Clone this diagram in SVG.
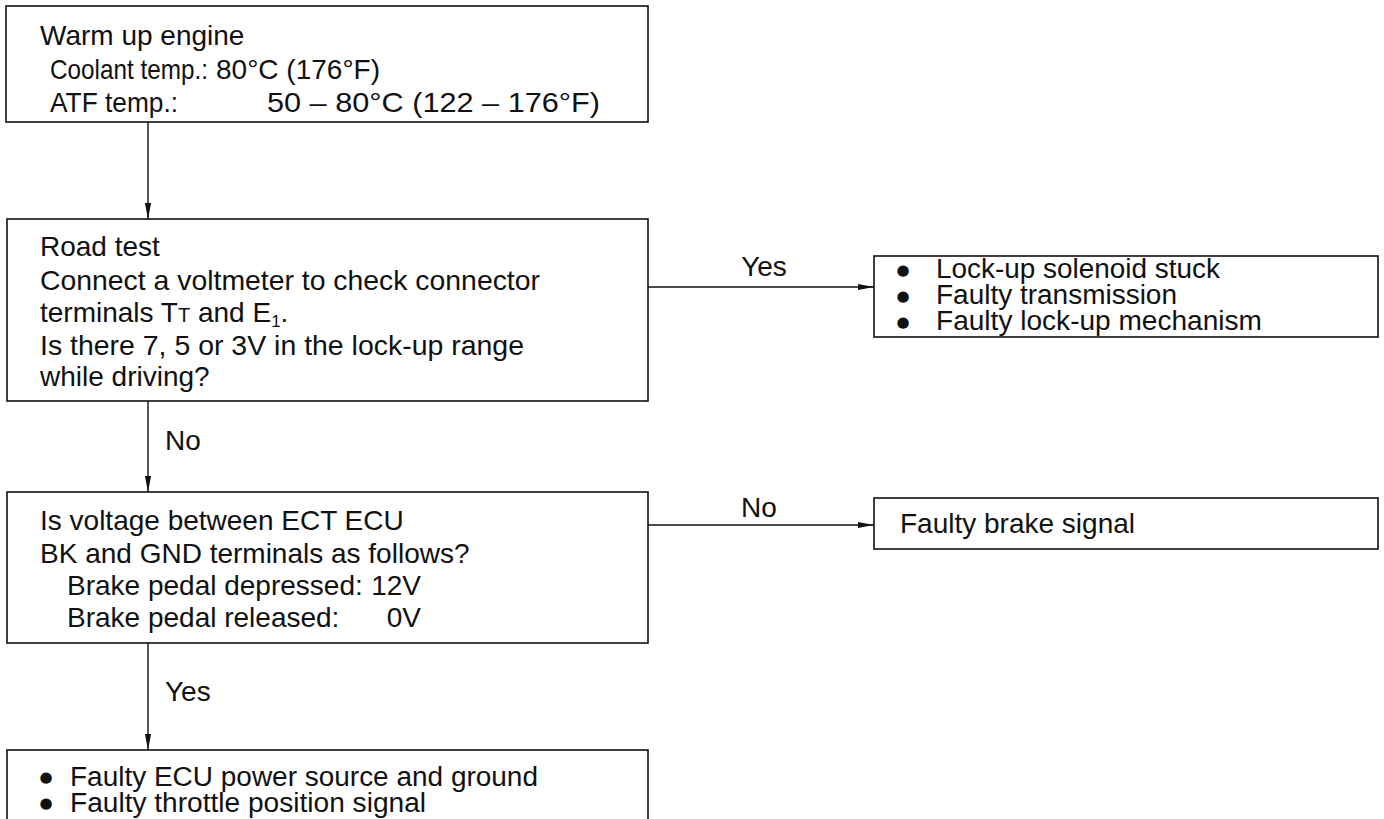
<svg xmlns="http://www.w3.org/2000/svg" width="1384" height="819" viewBox="0 0 1384 819">
<defs>
<marker id="ah" viewBox="0 0 16 8" refX="16" refY="4" markerWidth="16" markerHeight="8" markerUnits="userSpaceOnUse" orient="auto">
<path d="M0,0.9 L16,4 L0,7.1 Z" fill="#111"/>
</marker>
<style>
.box{fill:#fff;stroke:#111;stroke-width:1.6}
.t{font-family:"Liberation Sans",Arial,sans-serif;font-size:28px;fill:#111}
.s{font-size:27px}
.b{font-family:"DejaVu Sans",sans-serif;font-size:15px;fill:#111;text-anchor:middle}
.m{text-anchor:middle}
.e{text-anchor:end}
.c{stroke:#111;stroke-width:1.4;fill:none;marker-end:url(#ah)}
</style>
</defs>
<rect width="1384" height="819" fill="#fff"/>
<g id="connectors">
<line class="c" x1="148" y1="122" x2="148" y2="219"/>
<line class="c" x1="648" y1="287" x2="874" y2="287"/>
<line class="c" x1="148" y1="401" x2="148" y2="492"/>
<line class="c" x1="648" y1="525" x2="874" y2="525"/>
<line class="c" x1="148" y1="643" x2="148" y2="750"/>
<text class="t m" x="764" y="276">Yes</text>
<text class="t" x="165" y="450">No</text>
<text class="t m" x="759" y="517">No</text>
<text class="t" x="165" y="701">Yes</text>
</g>
<g id="n1">
<rect class="box" x="6" y="6" width="642" height="116"/>
<text class="t" x="40" y="45">Warm up engine</text>
<text class="t" x="50" y="79" textLength="158" lengthAdjust="spacingAndGlyphs">Coolant temp.:</text>
<text class="t" x="216" y="79">80°C (176°F)</text>
<text class="t" x="50" y="112" textLength="128" lengthAdjust="spacingAndGlyphs">ATF temp.:</text>
<text class="t" x="267" y="112" textLength="333" lengthAdjust="spacingAndGlyphs">50 – 80°C (122 – 176°F)</text>
</g>
<g id="n2">
<rect class="box" x="7" y="219" width="641" height="182"/>
<text class="t" x="40" y="256">Road test</text>
<text class="t" x="40" y="290" textLength="500" lengthAdjust="spacingAndGlyphs">Connect a voltmeter to check connector</text>
<text class="t" x="40" y="322">terminals T<tspan font-size="20">T</tspan> and E<tspan font-size="17" dy="5">1</tspan><tspan dy="-5">.</tspan></text>
<text class="t" x="40" y="355" textLength="484" lengthAdjust="spacingAndGlyphs">Is there 7, 5 or 3V in the lock-up range</text>
<text class="t" x="40" y="386">while driving?</text>
</g>
<g id="n3">
<rect class="box" x="874" y="256" width="504" height="81"/>
<text class="b" x="903" y="275">●</text>
<text class="t s" x="936" y="278" textLength="284" lengthAdjust="spacingAndGlyphs">Lock-up solenoid stuck</text>
<text class="b" x="903" y="301">●</text>
<text class="t s" x="936" y="304" textLength="241" lengthAdjust="spacingAndGlyphs">Faulty transmission</text>
<text class="b" x="903" y="327">●</text>
<text class="t s" x="936" y="330" textLength="326" lengthAdjust="spacingAndGlyphs">Faulty lock-up mechanism</text>
</g>
<g id="n4">
<rect class="box" x="7" y="492" width="641" height="151"/>
<text class="t" x="40" y="530">Is voltage between ECT ECU</text>
<text class="t" x="40" y="563">BK and GND terminals as follows?</text>
<text class="t" x="67" y="595">Brake pedal depressed:</text>
<text class="t e" x="421" y="595">12V</text>
<text class="t" x="67" y="627">Brake pedal released:</text>
<text class="t e" x="421" y="627">0V</text>
</g>
<g id="n5">
<rect class="box" x="874" y="498" width="504" height="51"/>
<text class="t" x="900" y="533">Faulty brake signal</text>
</g>
<g id="n6">
<rect class="box" x="7" y="750" width="641" height="90"/>
<text class="b" x="46" y="782">●</text>
<text class="t s" x="70" y="786" textLength="468" lengthAdjust="spacingAndGlyphs">Faulty ECU power source and ground</text>
<text class="b" x="46" y="808">●</text>
<text class="t s" x="70" y="812" textLength="356" lengthAdjust="spacingAndGlyphs">Faulty throttle position signal</text>
</g>
</svg>
